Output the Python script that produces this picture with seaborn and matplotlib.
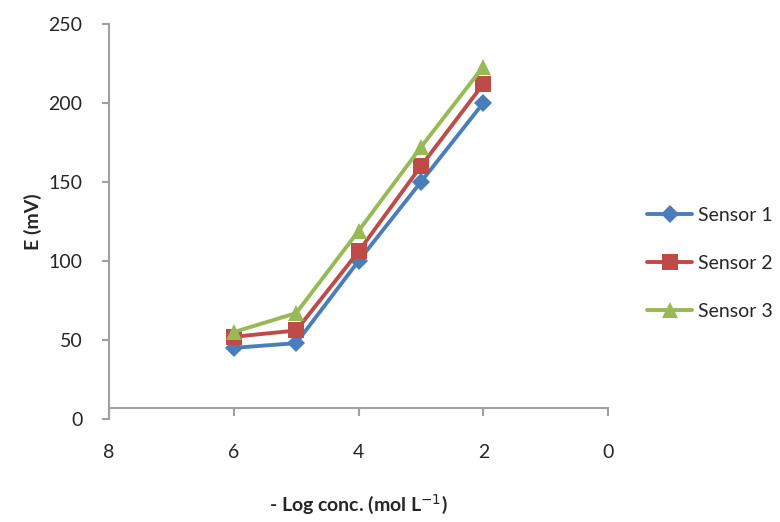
import pandas as pd
import matplotlib
matplotlib.use('Agg')
import matplotlib.pyplot as plt
from matplotlib.lines import Line2D
import seaborn as sns

#### Dados ####
log_conc = [6, 5, 4, 3, 2]
sensor_1 = [45, 48, 100, 150, 200]
sensor_2 = [52, 56, 106, 160, 212]
sensor_3 = [55, 67, 119, 172, 223]
nomes = ['Sensor 1', 'Sensor 2', 'Sensor 3']

df = pd.DataFrame({
    'x': log_conc * 3,
    'E': sensor_1 + sensor_2 + sensor_3,
    'sensor': [n for n in nomes for _ in log_conc],
})

sns.set_style('white')
plt.rcParams['font.family'] = ['Lato', 'DejaVu Sans']

cores = {'Sensor 1': '#4A7EBB', 'Sensor 2': '#BE4B48', 'Sensor 3': '#98B954'}
marcadores = {'Sensor 1': 'D', 'Sensor 2': 's', 'Sensor 3': '^'}
tamanhos = {'Sensor 1': 9, 'Sensor 2': 11, 'Sensor 3': 12}

fig = plt.figure(figsize=(7.8, 5.22), dpi=100)
ax = fig.add_axes([0.1397, 0.1973, 0.64, 0.757])

sns.lineplot(data=df, x='x', y='E', hue='sensor', style='sensor',
             palette=cores, markers=marcadores, dashes=False,
             linewidth=2.8, markeredgewidth=0, ax=ax, legend=False)
# ajusta tamanho de marcador por série
for linha, nome in zip(ax.lines, nomes):
    linha.set_markersize(tamanhos[nome])

ax.set_xlim(8, 0)
ax.set_ylim(0, 250)
ax.set_xticks([8, 6, 4, 2, 0])
ax.set_yticks(range(0, 251, 50))

for lado in ['top', 'right']:
    ax.spines[lado].set_visible(False)
for lado in ['left', 'bottom']:
    ax.spines[lado].set_color('#A0A0A0')
    ax.spines[lado].set_linewidth(1.5)
ax.spines['bottom'].set_position(('data', 7))

ax.tick_params(axis='y', direction='out', length=5, width=1.5, color='#A0A0A0',
               left=True, labelsize=14, pad=14)
ax.tick_params(axis='x', direction='out', length=6, width=1.5, color='#A0A0A0',
               bottom=True, labelsize=14, pad=20)

ax.set_xlabel('- Log conc. (mol L$^{-1}$)', fontsize=14, fontweight='bold', labelpad=22)
ax.set_ylabel('E (mV)', fontsize=14, fontweight='bold', labelpad=5)

#### Legenda à direita ####
handles = [Line2D([0], [0], color=cores[n], marker=marcadores[n], lw=2.8,
                  markersize=tamanhos[n], markeredgewidth=0) for n in nomes]
fig.legend(handles, nomes, loc='center left', bbox_to_anchor=(0.83, 0.495),
           frameon=False, fontsize=14, handlelength=2.3, labelspacing=1.6,
           handletextpad=0.3, borderpad=0, borderaxespad=0)

plt.savefig('out.png', dpi=100)
plt.close()
